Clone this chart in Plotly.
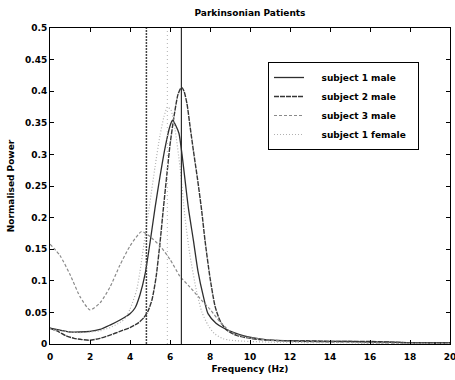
import plotly.graph_objects as go

# ---- data ----
s1_freq = [0, 0.5, 1, 1.5, 2, 2.5, 3, 3.5, 4, 4.25, 4.5, 4.75, 5.0, 5.25, 5.5, 5.75, 6.0, 6.13, 6.3, 6.45,
           6.6, 6.75, 6.92, 7.17, 7.4, 7.67, 7.9, 8.3, 8.7, 9.2, 9.7, 10.5, 11, 12, 13, 14, 15, 16, 17, 18, 19, 20]
s1_power = [0.025, 0.022, 0.019, 0.019, 0.02, 0.023, 0.03, 0.038, 0.048, 0.057, 0.078, 0.11, 0.16, 0.215, 0.265,
            0.31, 0.345, 0.354, 0.345, 0.333, 0.3, 0.26, 0.215, 0.164, 0.115, 0.075, 0.048, 0.033, 0.025, 0.018,
            0.013, 0.008, 0.006, 0.005, 0.004, 0.004, 0.004, 0.003, 0.003, 0.002, 0.002, 0.002]

s2_freq = [0, 0.4, 0.8, 1.2, 1.6, 2, 2.5, 3, 3.5, 4, 4.4, 4.7, 4.9, 5.1, 5.3, 5.5, 5.67, 5.85, 6.0, 6.2, 6.4,
           6.57, 6.7, 6.85, 7.0, 7.17, 7.38, 7.58, 7.75, 8.0, 8.25, 8.5, 8.83, 9.3, 9.8, 10.5, 11, 12, 13, 14,
           15, 16, 17, 18, 19, 20]
s2_power = [0.025, 0.02, 0.013, 0.009, 0.007, 0.006, 0.009, 0.014, 0.02, 0.026, 0.033, 0.042, 0.052, 0.07,
            0.105, 0.16, 0.215, 0.27, 0.315, 0.36, 0.395, 0.406, 0.4, 0.38, 0.345, 0.306, 0.26, 0.212, 0.164,
            0.105, 0.06, 0.037, 0.022, 0.014, 0.01, 0.007, 0.006, 0.005, 0.005, 0.004, 0.004, 0.004, 0.003,
            0.002, 0.001, 0.001]

s3_freq = [0, 0.5, 1, 1.5, 2, 2.5, 3, 3.5, 4, 4.58, 5, 5.5, 6, 6.5, 7, 7.5, 8, 8.5, 9, 9.5, 10, 11, 12, 14,
           16, 18, 20]
s3_power = [0.158, 0.14, 0.11, 0.075, 0.054, 0.065, 0.09, 0.125, 0.155, 0.178, 0.17, 0.155, 0.134, 0.107,
            0.09, 0.072, 0.055, 0.035, 0.02, 0.013, 0.01, 0.006, 0.004, 0.003, 0.002, 0.001, 0.001]

f1_freq = [0, 0.5, 1, 1.5, 2, 2.5, 3, 3.5, 3.75, 4.0, 4.33, 4.5, 4.75, 5.0, 5.25, 5.5, 5.7, 5.87, 6.05, 6.25,
           6.5, 6.75, 7.0, 7.33, 7.6, 7.9, 8.2, 8.6, 9.0, 10, 11, 12, 13, 14, 15, 16, 18, 20]
f1_power = [0.024, 0.021, 0.019, 0.018, 0.019, 0.021, 0.026, 0.034, 0.04, 0.055, 0.085, 0.115, 0.17, 0.225,
            0.28, 0.33, 0.36, 0.375, 0.37, 0.34, 0.28, 0.2, 0.14, 0.083, 0.05, 0.03, 0.017, 0.009, 0.006,
            0.004, 0.003, 0.003, 0.002, 0.002, 0.002, 0.001, 0.001, 0.001]

series_names = ["subject 1 male", "subject 2 male", "subject 3 male", "subject 1 female"]
marker_freqs = [4.82, 5.87, 6.57]

x_ticks = list(range(0, 21, 2))
y_ticks = [0, 0.05, 0.1, 0.15, 0.2, 0.25, 0.3, 0.35, 0.4, 0.45, 0.5]

# ---- styling ----
FONT = "DejaVu Sans"
NB = "\u00a0"
series = [
    (s1_freq, s1_power, dict(color="#2e2e2e", width=1.3, dash="solid")),
    (s2_freq, s2_power, dict(color="#353535", width=1.4, dash="5px,1px")),
    (s3_freq, s3_power, dict(color="#8a8a8a", width=1.2, dash="3px,2px")),
    (f1_freq, f1_power, dict(color="#b0b0b0", width=1.2, dash="1px,2px")),
]
vline_styles = [
    dict(color="#444444", width=1.5, dash="2px,1px"),
    dict(color="#bdbdbd", width=1.2, dash="1px,3px"),
    dict(color="#2e2e2e", width=1.2, dash="solid"),
]

fig = go.Figure()
for (fx, fy, ln), name in zip(series, series_names):
    fig.add_trace(go.Scatter(x=fx, y=fy, mode="lines", name=NB * 4 + name + NB * 2,
                             line=dict(shape="spline", smoothing=0.6, **ln)))

for fx, st in zip(marker_freqs, vline_styles):
    fig.add_shape(type="line", xref="x", yref="y", x0=fx, x1=fx, y0=0, y1=0.5, line=st, layer="above")

axis_common = dict(
    showline=True, linecolor="black", linewidth=1, mirror="ticks",
    ticks="inside", ticklen=4, tickcolor="black", tickwidth=1,
    showgrid=False, zeroline=False, ticklabeloverflow="allow", automargin=False,
    tickfont=dict(family=FONT, size=9, color="black", weight="bold"),
)

fig.update_layout(
    width=455, height=380,
    margin=dict(l=50, r=5, t=28, b=36),
    paper_bgcolor="white", plot_bgcolor="white",
    title=dict(text="Parkinsonian Patients", x=0.5, xref="paper", y=1 - 13 / 380, yref="container",
               xanchor="center", yanchor="middle",
               font=dict(family=FONT, size=9, color="black", weight="bold")),
    xaxis=dict(range=[0, 20], tickvals=x_ticks, ticktext=[str(v) for v in x_ticks],
               ticklabelstandoff=4,
               title=dict(text="Frequency (Hz)", standoff=4,
                          font=dict(family=FONT, size=9, color="black", weight="bold")),
               **axis_common),
    yaxis=dict(range=[0, 0.5], tickvals=y_ticks, ticktext=[f"{v:g}" for v in y_ticks],
               title=dict(text="Normalised Power", standoff=8,
                          font=dict(family=FONT, size=9, color="black", weight="bold")),
               **axis_common),
    legend=dict(x=0.545, y=(344 - 106) / 316, xanchor="left", yanchor="middle",
                bordercolor="black", borderwidth=1, bgcolor="white",
                font=dict(family=FONT, size=9, color="black", weight="bold"),
                itemwidth=30),
    showlegend=True,
)

fig.write_html("out.html")
